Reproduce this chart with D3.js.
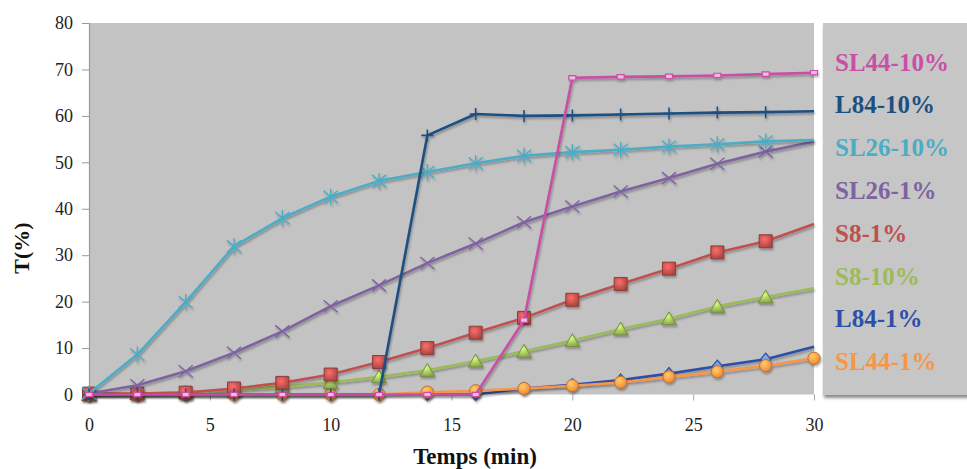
<!DOCTYPE html>
<html>
<head>
<meta charset="utf-8">
<script src="https://cdn.jsdelivr.net/npm/d3@7"></script>
<style>
  html, body { margin: 0; padding: 0; background: #fff; }
  svg { display: block; }
</style>
</head>
<body>
<svg id="chart" width="967" height="469"></svg>
<script>
// ---- data ----
const times = [0, 2, 4, 6, 8, 10, 12, 14, 16, 18, 20, 22, 24, 26, 28, 30];
const seriesNames = ["SL44-10%", "L84-10%", "SL26-10%", "SL26-1%", "S8-1%", "S8-10%", "L84-1%", "SL44-1%"];
const SL44_10 = [0, 0, 0, 0, 0, 0, 0, 0, 0, 16.0, 68.2, 68.4, 68.5, 68.7, 69.0, 69.3];
const L84_10  = [0, 0, 0, 0, 0, 0, 0, 55.8, 60.4, 60.0, 60.1, 60.3, 60.5, 60.7, 60.8, 61.0];
const SL26_10 = [0.2, 8.6, 19.9, 31.9, 38.0, 42.6, 46.0, 47.9, 49.8, 51.4, 52.2, 52.7, 53.4, 53.9, 54.5, 54.8];
const SL26_1  = [0.2, 2.0, 5.0, 9.0, 13.6, 19.0, 23.5, 28.3, 32.5, 37.1, 40.5, 43.7, 46.6, 49.7, 52.3, 54.5];
const S8_1    = [0.2, 0.2, 0.4, 1.3, 2.5, 4.3, 7.0, 10.0, 13.3, 16.5, 20.4, 23.8, 27.1, 30.6, 33.0, 36.7];
const S8_10   = [0, 0.2, 0.5, 1.0, 1.7, 2.6, 3.8, 5.2, 7.2, 9.3, 11.6, 14.1, 16.3, 19.0, 21.0, 22.9];
const L84_1   = [0, 0, 0, 0, 0, 0, 0, 0, 0, 1.3, 2.1, 3.1, 4.5, 6.1, 7.6, 10.3];
const SL44_1  = [0, 0, 0, 0, 0, 0, 0, 0.5, 0.8, 1.3, 1.9, 2.6, 3.8, 4.9, 6.2, 7.8];
const seriesValues = [SL44_10, L84_10, SL26_10, SL26_1, S8_1, S8_10, L84_1, SL44_1];
const xTicks = [0, 5, 10, 15, 20, 25, 30];
const yTicks = [0, 10, 20, 30, 40, 50, 60, 70, 80];
const xTitle = "Temps (min)";
const yTitle = "T(%)";

// ---- styles ----
const styles = {
  "SL44-10%": { color: "#C94FA6", marker: "rect",     endMarker: true },
  "L84-10%":  { color: "#1F4F82", marker: "plus",     endMarker: false },
  "SL26-10%": { color: "#4BACC6", marker: "asterisk", endMarker: false },
  "SL26-1%":  { color: "#7F63A1", marker: "x",        endMarker: false },
  "S8-1%":    { color: "#C0504D", marker: "square",   endMarker: false },
  "S8-10%":   { color: "#9BBB59", marker: "triangle", endMarker: false },
  "L84-1%":   { color: "#2D4FA8", marker: "diamond",  endMarker: false },
  "SL44-1%":  { color: "#F79646", marker: "circle",   endMarker: true }
};
const drawOrder = ["L84-1%", "SL44-1%", "S8-10%", "S8-1%", "SL26-1%", "SL26-10%", "L84-10%", "SL44-10%"];

const svg = d3.select("#chart");
const W = 967, H = 469;
const plot = { left: 89, right: 814, top: 23, bottom: 394.5 };

const x = d3.scaleLinear().domain([0, 30]).range([plot.left, plot.right]);
const y = d3.scaleLinear().domain([0, 80]).range([plot.bottom, plot.top]);

const defs = svg.append("defs");
const shadow = defs.append("filter").attr("id", "shadow")
  .attr("x", "-20%").attr("y", "-20%").attr("width", "140%").attr("height", "140%");
shadow.append("feDropShadow").attr("dx", 1).attr("dy", 2).attr("stdDeviation", 1.2)
  .attr("flood-color", "#000").attr("flood-opacity", 0.3);
const boxShadow = defs.append("filter").attr("id", "boxshadow")
  .attr("x", "-5%").attr("y", "-5%").attr("width", "115%").attr("height", "115%");
boxShadow.append("feDropShadow").attr("dx", 1).attr("dy", 3).attr("stdDeviation", 1.5)
  .attr("flood-color", "#000").attr("flood-opacity", 0.45);

function makeGrad(id, c) {
  const g = defs.append("radialGradient").attr("id", id)
    .attr("cx", "40%").attr("cy", "35%").attr("r", "70%");
  g.append("stop").attr("offset", "0%").attr("stop-color", d3.color(c).brighter(0.9));
  g.append("stop").attr("offset", "70%").attr("stop-color", c);
  g.append("stop").attr("offset", "100%").attr("stop-color", d3.color(c).darker(0.4));
}
seriesNames.forEach((n, i) => makeGrad("g" + i, styles[n].color));

// plot background
svg.append("rect")
  .attr("x", plot.left).attr("y", plot.top)
  .attr("width", plot.right - plot.left).attr("height", plot.bottom - plot.top)
  .attr("fill", "#C3C3C3");

// legend background
svg.append("rect")
  .attr("x", 823).attr("y", 23).attr("width", 160).attr("height", 372)
  .attr("fill", "#C6C6C6").attr("filter", "url(#boxshadow)");

// axes
const yAxis = d3.axisLeft(y).tickValues(yTicks).tickSize(7).tickPadding(9);
const gy = svg.append("g").attr("transform", `translate(${plot.left},0)`).call(yAxis);
gy.select(".domain").attr("stroke", "#9a9a9a").attr("stroke-width", 1.2);
gy.selectAll(".tick line").attr("stroke", "#9a9a9a");
gy.selectAll("text").attr("font-family", "Liberation Serif, serif").attr("font-size", 18)
  .attr("fill", "#222");

const xAxis = d3.axisBottom(x).tickValues(xTicks).tickSize(6).tickPadding(18);
const gx = svg.append("g").attr("transform", `translate(0,${plot.bottom})`).call(xAxis);
gx.select(".domain").remove();
gx.selectAll(".tick line").attr("stroke", "#a8a8a8");
gx.selectAll("text").attr("font-family", "Liberation Serif, serif").attr("font-size", 18)
  .attr("fill", "#222");

// axis titles
svg.append("text").attr("x", 475).attr("y", 464)
  .attr("text-anchor", "middle")
  .attr("font-family", "Liberation Serif, serif").attr("font-weight", "bold")
  .attr("font-size", 23).attr("fill", "#111").text(xTitle);
svg.append("text")
  .attr("transform", "translate(29,248) rotate(-90)")
  .attr("text-anchor", "middle")
  .attr("font-family", "Liberation Serif, serif").attr("font-weight", "bold")
  .attr("font-size", 22).attr("fill", "#111").text(yTitle);

// marker paths
function markerPath(type) {
  switch (type) {
    case "plus": return "M-6,0H6M0,-6V6";
    case "x": return "M-7,-6L7,6M-7,6L7,-6";
    case "asterisk": return "M-7,-6L7,6M-7,6L7,-6M0,-8V8";
    case "square": return "M-6.5,-6.5H6.5V6.5H-6.5Z";
    case "triangle": return "M0,-7L7.5,6H-7.5Z";
    case "diamond": return "M0,-6L5,0L0,6L-5,0Z";
    case "rect": return "M-3.5,-2.2H3.5V2.2H-3.5Z";
    case "circle": return d3.symbol(d3.symbolCircle, 120)();
  }
}
const strokeMarkers = new Set(["plus", "x", "asterisk"]);

const line = d3.line().x(d => x(d.t)).y(d => y(d.v));

drawOrder.forEach(name => {
  const idx = seriesNames.indexOf(name);
  const st = styles[name];
  const pts = times.map((t, i) => ({ t, v: seriesValues[idx][i] }));
  const g = svg.append("g").attr("filter", "url(#shadow)");
  g.append("path").datum(pts).attr("d", line)
    .attr("fill", "none").attr("stroke", st.color).attr("stroke-width", 2.6)
    .attr("stroke-linejoin", "round");
  const mpts = st.endMarker ? pts : pts.slice(0, -1);
  const m = g.selectAll(".m").data(mpts).enter().append("path")
    .attr("transform", d => `translate(${x(d.t)},${y(d.v)})`)
    .attr("d", markerPath(st.marker));
  if (strokeMarkers.has(st.marker)) {
    m.attr("fill", "none").attr("stroke", st.color).attr("stroke-width", st.marker === "plus" ? 1.6 : 1.4);
  } else if (st.marker === "rect") {
    m.attr("fill", "#F2B8DF").attr("stroke", st.color).attr("stroke-width", 1.2);
  } else if (st.marker === "diamond") {
    m.attr("fill", "#7FA6E0").attr("stroke", st.color).attr("stroke-width", 1.3);
  } else {
    m.attr("fill", `url(#g${idx})`).attr("stroke", d3.color(st.color).darker(0.8)).attr("stroke-width", 1);
  }
});

// legend text
seriesNames.forEach((name, i) => {
  svg.append("text")
    .attr("x", 835).attr("y", 70.5 + i * 42.8)
    .attr("font-family", "Liberation Serif, serif").attr("font-weight", "bold")
    .attr("font-size", 25).attr("fill", styles[name].color)
    .text(name);
});
</script>
</body>
</html>
